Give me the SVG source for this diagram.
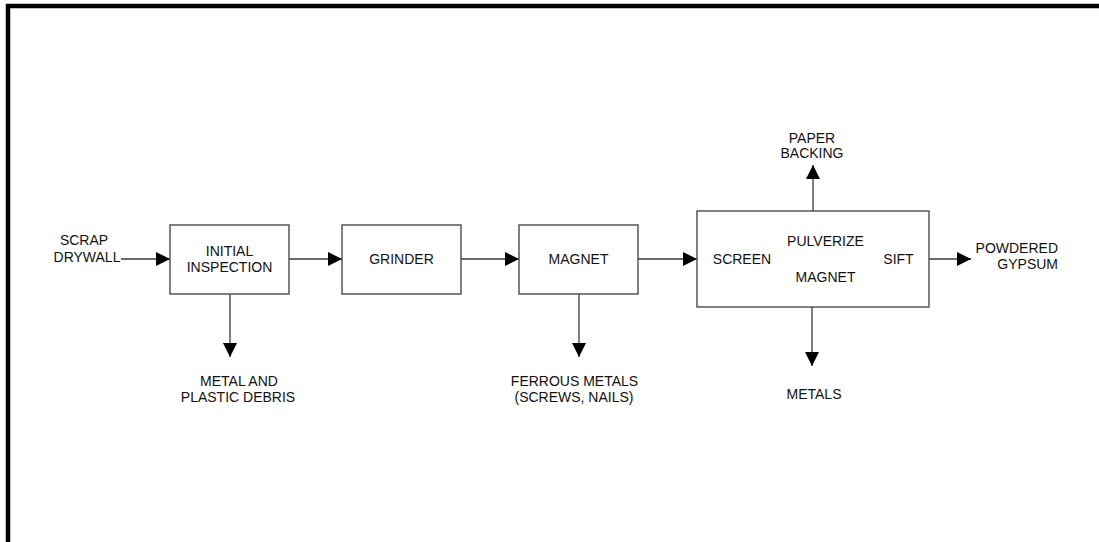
<svg xmlns="http://www.w3.org/2000/svg" width="1099" height="542" viewBox="0 0 1099 542">
  <defs>
    <marker id="arrow" markerUnits="userSpaceOnUse" markerWidth="15" markerHeight="14" refX="14" refY="7" orient="auto">
      <path d="M0,0 L14,7 L0,14 Z" fill="#000"/>
    </marker>
  </defs>
  <style>
    .box { fill: #fff; stroke: #4a4a4a; stroke-width: 1.4; }
    .line { fill: none; stroke: #3a3a3a; stroke-width: 1.3; marker-end: url(#arrow); }
    text { font-family: "Liberation Sans", Arial, sans-serif; font-size: 14px; fill: #111; text-anchor: middle; }
  </style>
  <rect width="1099" height="542" fill="#fff"/>
  <!-- frame: left and top edges only -->
  <path d="M8,542 V6 H1099" fill="none" stroke="#000" stroke-width="4.5"/>

  <g id="connectors">
    <line class="line" x1="121" y1="259" x2="170" y2="259"/>
    <line class="line" x1="289" y1="259" x2="342" y2="259"/>
    <line class="line" x1="461" y1="259" x2="519" y2="259"/>
    <line class="line" x1="638" y1="259" x2="697" y2="259"/>
    <line class="line" x1="929" y1="259" x2="971" y2="259"/>
    <line class="line" x1="230" y1="294" x2="230" y2="357"/>
    <line class="line" x1="579" y1="294" x2="579" y2="357"/>
    <line class="line" x1="813" y1="211" x2="813" y2="165"/>
    <line class="line" x1="812" y1="307" x2="812" y2="366"/>
  </g>

  <g id="scrap-drywall">
    <text x="84" y="245">SCRAP</text>
    <text x="87" y="262">DRYWALL</text>
  </g>

  <g id="initial-inspection">
    <rect class="box" x="170" y="225" width="119" height="69"/>
    <text x="229.5" y="256">INITIAL</text>
    <text x="229.5" y="272">INSPECTION</text>
  </g>

  <g id="grinder">
    <rect class="box" x="342" y="225" width="119" height="69"/>
    <text x="401.5" y="264">GRINDER</text>
  </g>

  <g id="magnet">
    <rect class="box" x="519" y="225" width="119" height="69"/>
    <text x="578.5" y="264">MAGNET</text>
  </g>

  <g id="screen-pulverize">
    <rect class="box" x="697" y="211" width="232" height="96"/>
    <text x="742" y="264">SCREEN</text>
    <text x="825.5" y="246">PULVERIZE</text>
    <text x="825.5" y="282">MAGNET</text>
    <text x="898.5" y="264">SIFT</text>
  </g>

  <g id="paper-backing">
    <text x="812" y="143">PAPER</text>
    <text x="812" y="158">BACKING</text>
  </g>

  <g id="powdered-gypsum">
    <text x="1058" y="253" style="text-anchor:end">POWDERED</text>
    <text x="1058" y="269" style="text-anchor:end">GYPSUM</text>
  </g>

  <g id="metal-plastic-debris">
    <text x="239" y="386">METAL AND</text>
    <text x="238" y="402">PLASTIC DEBRIS</text>
  </g>

  <g id="ferrous-metals">
    <text x="574.5" y="386">FERROUS METALS</text>
    <text x="574" y="402">(SCREWS, NAILS)</text>
  </g>

  <g id="metals">
    <text x="814" y="399">METALS</text>
  </g>
</svg>
